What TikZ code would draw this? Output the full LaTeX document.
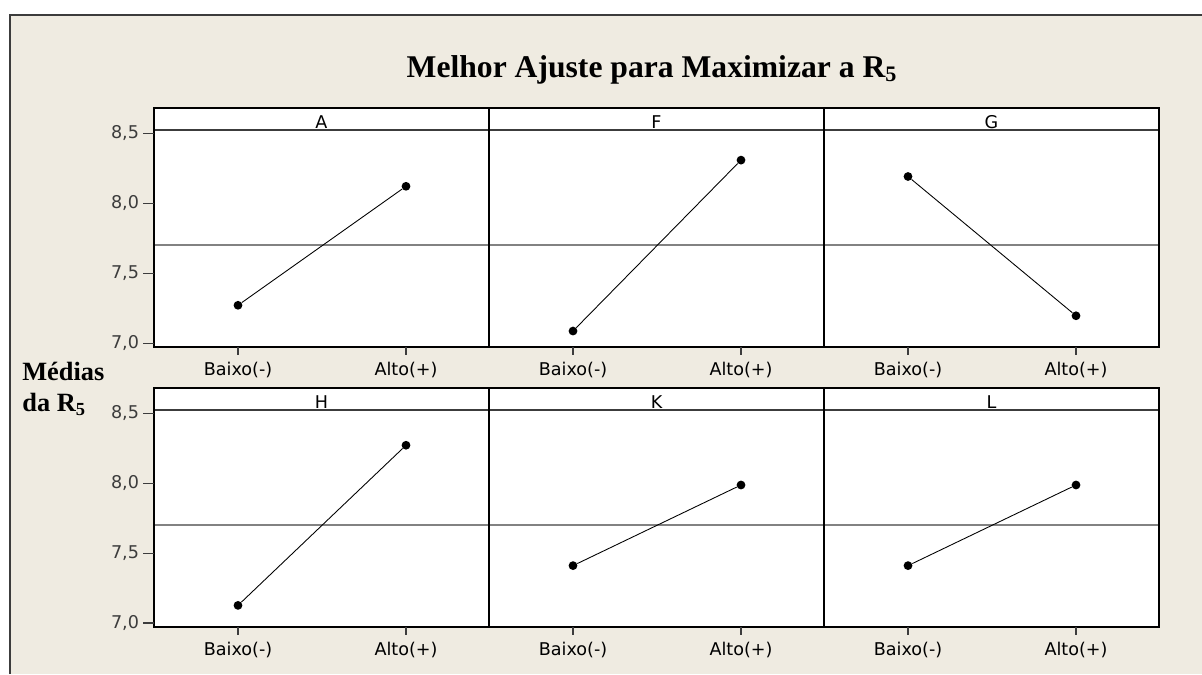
\documentclass[tikz,border=0pt]{standalone}
\usepackage{fontspec}
\setmainfont{Liberation Serif}
\newfontfamily\axisfont{DejaVu Sans}
\definecolor{fundo}{RGB}{239,235,225}
\definecolor{cinza}{RGB}{130,130,130}
\definecolor{escuro}{RGB}{60,60,60}
\tikzset{
  ponto/.style={circle,fill=black,inner sep=0pt,minimum size=5pt},
  dado/.style={line width=0.5pt},
  media/.style={cinza,line width=0.9pt},
  cabecalho/.style={escuro,line width=0.9pt},
  borda/.style={black,line width=0.9pt},
  divisor/.style={black,line width=0.6pt},
  marca/.style={escuro,line width=0.6pt},
  moldura/.style={escuro,line width=0.6pt},
  rotulo/.style={font=\axisfont\fontsize{10}{12}\selectfont,inner sep=0pt},
  titulo/.style={font=\bfseries\fontsize{18}{21}\selectfont,anchor=base,inner sep=0pt},
  eixoy/.style={font=\bfseries\fontsize{15}{17.6}\selectfont,align=left,anchor=west,inner sep=0pt}
}
\begin{document}
\begin{tikzpicture}[x=0.02cm,y=0.02cm]
\useasboundingbox (0,0) rectangle (1202,674);
\fill[fundo] (10,0) rectangle (1202,659);
\draw[moldura] (10,0) -- (10,659) -- (1202,659);
\node[titulo] (titulo) at (652,597) {Melhor Ajuste para Maximizar a R\textsubscript{5}};
\node[eixoy] (medias) at (22,285) {Médias\\da R\textsubscript{5}};

% paineis, eixos e linha da media
\foreach \sh/\r/\la/\lb/\lc in {-12.98/1/A/F/G,-18.58/2/H/K/L}{
\begin{scope}[yshift=\sh cm,y=2.8cm]
\fill[white] (154,6.971) rectangle (1159,8.679);
\draw[media] (154,7.7) -- (1159,7.7);
\draw[cabecalho] (154,8.521) -- (1159,8.521);
\draw[divisor] (489,6.971) -- (489,8.679) (824,6.971) -- (824,8.679);
\draw[borda] (154,6.971) rectangle (1159,8.679);
\node[rotulo] (p\r1) at (321.5,8.58) {\la};
\node[rotulo] (p\r2) at (656.5,8.58) {\lb};
\node[rotulo] (p\r3) at (991.5,8.58) {\lc};
\foreach \v/\t [count=\i] in {7/{7,0},7.5/{7,5},8/{8,0},8.5/{8,5}}
  \draw[marca] (154,\v) -- (143,\v) node[rotulo,anchor=east,xshift=-2pt] (y\r\i) {\t};
\foreach \px [count=\j] in {238,573,908}{
  \draw[marca] (\px,6.971) -- (\px,6.914);
  \draw[marca] (\px+168,6.971) -- (\px+168,6.914);
  \node[rotulo] (b\r\j) at (\px,6.807) {Baixo(-)};
  \node[rotulo] (c\r\j) at (\px+168,6.807) {Alto(+)};
}
\end{scope}}

% medias de cada fator
\begin{scope}[yshift=-12.98cm,y=2.8cm]
\node[ponto] (Abx) at (238,7.27) {};
\node[ponto] (Aal) at (406,8.12) {};
\node[ponto] (Fbx) at (573,7.086) {};
\node[ponto] (Fal) at (741,8.307) {};
\node[ponto] (Gbx) at (908,8.19) {};
\node[ponto] (Gal) at (1076,7.195) {};
\draw[dado] (Abx) -- (Aal);
\draw[dado] (Fbx) -- (Fal);
\draw[dado] (Gbx) -- (Gal);
\end{scope}
\begin{scope}[yshift=-18.58cm,y=2.8cm]
\node[ponto] (Hbx) at (238,7.126) {};
\node[ponto] (Hal) at (406,8.27) {};
\node[ponto] (Kbx) at (573,7.41) {};
\node[ponto] (Kal) at (741,7.986) {};
\node[ponto] (Lbx) at (908,7.41) {};
\node[ponto] (Lal) at (1076,7.986) {};
\draw[dado] (Hbx) -- (Hal);
\draw[dado] (Kbx) -- (Kal);
\draw[dado] (Lbx) -- (Lal);
\end{scope}

\end{tikzpicture}
\end{document}
